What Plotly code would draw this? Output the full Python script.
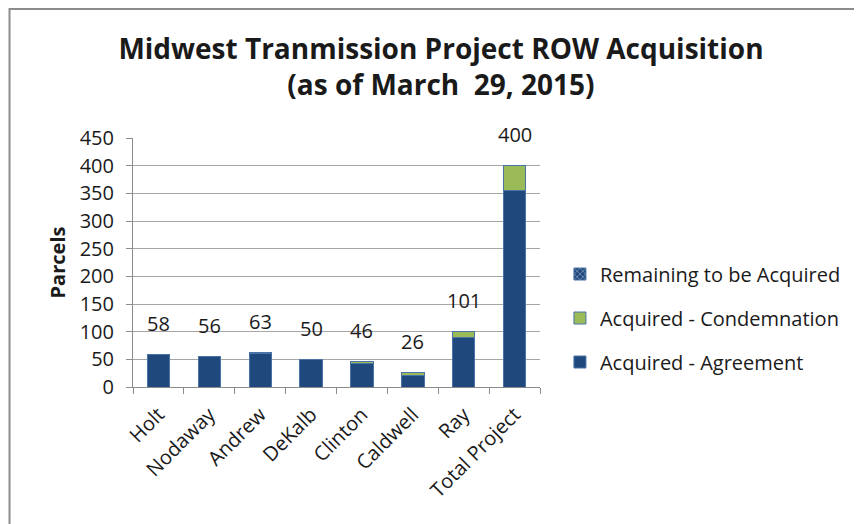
import plotly.graph_objects as go

categories = ["Holt", "Nodaway", "Andrew", "DeKalb", "Clinton", "Caldwell", "Ray", "Total Project"]
agreement = [58, 56, 61, 50, 42, 20, 89, 356]
condemnation = [0, 0, 2, 0, 4, 6, 12, 44]
remaining = [0, 0, 0, 0, 0, 0, 0, 0]
totals = [58, 56, 63, 50, 46, 26, 101, 400]
y_ticks = [0, 50, 100, 150, 200, 250, 300, 350, 400, 450]

FONT = "Open Sans"
TXT = "#1a1a1a"
FS = 20

fig = go.Figure()
fig.add_trace(go.Bar(
    x=categories, y=agreement, name="Acquired - Agreement",
    marker=dict(color="#1F497D", line=dict(color="#4A74A8", width=1)),
    legendgroup="a", legendrank=3,
))
fig.add_trace(go.Bar(
    x=categories, y=condemnation, name="Acquired - Condemnation",
    marker=dict(color="#9BBB59", line=dict(color="#4A74A8", width=1)),
    legendgroup="b", legendrank=2,
))
fig.add_trace(go.Bar(
    x=categories, y=remaining, name="Remaining to be Acquired",
    marker=dict(color="#FFFFFF", line=dict(color="#4A74A8", width=1),
                pattern=dict(shape="x", bgcolor="#1F497D", fgcolor="#FFFFFF", size=5, solidity=0.3)),
    legendgroup="c", legendrank=1,
))

for c, t in zip(categories, totals):
    fig.add_annotation(x=c, y=t, text=str(t), showarrow=False, yshift=31,
                       yanchor="middle", font=dict(family=FONT, size=FS, color=TXT))

# outer chart border
fig.add_shape(type="rect", xref="paper", yref="paper",
              x0=-0.3034, x1=1.9, y0=-0.6, y1=1.518,
              line=dict(color="#8C8C8C", width=2), fillcolor="rgba(0,0,0,0)")

fig.update_layout(
    width=854, height=516,
    margin=dict(l=125, r=322, t=130, b=137),
    paper_bgcolor="white", plot_bgcolor="white",
    barmode="stack", bargap=0.56,
    title=dict(text="<b>Midwest Tranmission Project ROW Acquisition<br>(as of March  29, 2015)</b>",
               x=0.507, xanchor="center", y=0.902, yanchor="middle",
               font=dict(family=FONT, size=28, color=TXT)),
    font=dict(family=FONT, color=TXT),
    showlegend=True,
    legend=dict(x=1.049, y=0.277, xanchor="left", yanchor="middle",
                traceorder="grouped", tracegroupgap=15,
                font=dict(family=FONT, size=FS, color=TXT),
                itemwidth=30, bgcolor="rgba(0,0,0,0)"),
    xaxis=dict(tickangle=-45, tickfont=dict(family=FONT, size=FS, color=TXT),
               showline=True, linecolor="#8C8C8C", linewidth=1,
               ticks="outside", ticklen=6, tickcolor="#8C8C8C", tickson="boundaries",
               ticklabelstandoff=7, showgrid=False),
    yaxis=dict(range=[0, 450], tickvals=y_ticks, tickfont=dict(family=FONT, size=FS, color=TXT),
               showline=True, linecolor="#8C8C8C", linewidth=1,
               ticks="outside", ticklen=6, tickcolor="#8C8C8C", ticklabelstandoff=8,
               showgrid=True, gridcolor="#A6A6A6", gridwidth=1, zeroline=False,
               title=dict(text="<b>Parcels</b>", font=dict(family=FONT, size=FS, color=TXT), standoff=8)),
)

fig.write_html("out.html")
